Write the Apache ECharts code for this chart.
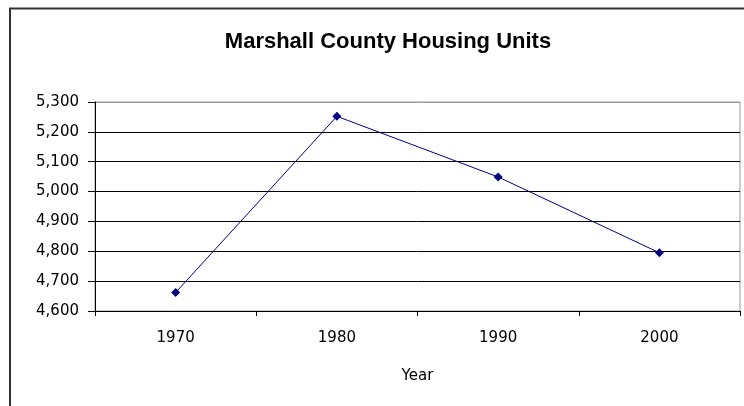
<!DOCTYPE html>
<html>
<head>
<meta charset="utf-8">
<script src="https://cdn.jsdelivr.net/npm/echarts@6/dist/echarts.min.js"></script>
<style>
  html, body { margin: 0; padding: 0; background: #fff; }
  #chart { width: 744px; height: 406px; }
</style>
</head>
<body>
<div id="chart"></div>
<script>
// chart data
const years = ['1970', '1980', '1990', '2000'];
const housingUnits = [4662, 5252, 5049, 4795];
const yMin = 4600;
const yMax = 5300;
const yStep = 100;

const chart = echarts.init(document.getElementById('chart'));

const labelFont = { fontFamily: 'DejaVu Sans, Verdana, sans-serif', fontSize: 15, color: '#000' };

// top line of the plot is the grey plot-area border
const gridColors = ['#000', '#000', '#000', '#000', '#000', '#000', '#000', '#999'];

chart.setOption({
  backgroundColor: '#fff',
  animation: false,
  title: {
    text: 'Marshall County Housing Units',
    left: 383,
    top: 26,
    textAlign: 'center',
    textStyle: {
      fontFamily: 'Liberation Sans, Arial, sans-serif',
      fontSize: 22,
      fontWeight: 'bold',
      color: '#000'
    }
  },
  graphic: [{
    type: 'rect',
    shape: { x: 10, y: 8.5, width: 800, height: 500 },
    style: { fill: 'none', stroke: '#333', lineWidth: 2 },
    silent: true,
    z: -1
  }],
  grid: {
    left: 95, right: 4, top: 102, bottom: 95,
    show: true, borderColor: '#999', borderWidth: 1, backgroundColor: '#fff'
  },
  xAxis: {
    type: 'category',
    data: years,
    boundaryGap: true,
    name: 'Year',
    nameLocation: 'middle',
    nameGap: 58,
    nameTextStyle: labelFont,
    axisLine: { lineStyle: { color: '#000', width: 1 } },
    axisTick: { show: true, interval: 0, length: 5, lineStyle: { color: '#000' } },
    axisLabel: Object.assign({ margin: 20 }, labelFont),
    splitLine: { show: false }
  },
  yAxis: {
    type: 'value',
    min: yMin,
    max: yMax,
    interval: yStep,
    axisLine: { show: true, lineStyle: { color: '#000', width: 1 } },
    axisTick: { show: true, length: 7, lineStyle: { color: '#000' } },
    axisLabel: Object.assign({
      margin: 16,
      formatter: (v) => v.toLocaleString('en-US')
    }, labelFont),
    splitLine: { show: true, lineStyle: { color: gridColors, width: 1 } }
  },
  series: [{
    type: 'line',
    data: housingUnits,
    symbol: 'diamond',
    symbolSize: 9,
    lineStyle: { color: '#000080', width: 1 },
    itemStyle: { color: '#000080' }
  }]
});
</script>
</body>
</html>
